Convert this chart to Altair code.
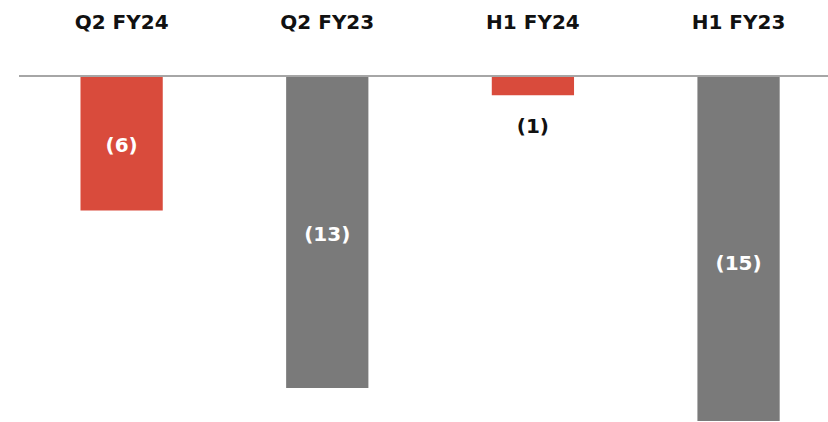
import altair as alt
import pandas as pd

categories = ["Q2 FY24", "Q2 FY23", "H1 FY24", "H1 FY23"]
values = [-5.6, -13.0, -0.8, -15.4]
labels = ["(6)", "(13)", "(1)", "(15)"]
bar_colors = ["#D94B3C", "#7A7A7A", "#D94B3C", "#7A7A7A"]

df = pd.DataFrame({"cat": categories, "value": values, "label": labels, "color": bar_colors})

FONT = "DejaVu Sans"

x = alt.X("cat:N", sort=categories, title=None,
          scale=alt.Scale(paddingInner=0.6, paddingOuter=0.267, align=0.56),
          axis=alt.Axis(orient="top", domain=False, ticks=False, labelAngle=0,
                        labelFont=FONT, labelFontWeight="bold", labelFontSize=20,
                        labelColor="#111111", labelPadding=44, grid=False))
yscale = alt.Scale(domain=[-14.375, 0], nice=False, zero=False)

base = alt.Chart(df)

bars = base.mark_bar(clip=True).encode(
    x=x,
    y=alt.Y("value:Q", scale=yscale, axis=None),
    y2=alt.datum(0),
    color=alt.Color("color:N", scale=None),
)

zero = alt.Chart(df).mark_rule(color="#A6A6A6", strokeWidth=1.5).encode(
    y=alt.datum(0)
)

inside = base.transform_filter("datum.value <= -2").transform_calculate(
    mid="datum.value / 2"
).mark_text(font=FONT, fontWeight="bold", fontSize=20, color="#FFFFFF",
            baseline="middle", dy=3).encode(
    x=alt.X("cat:N", sort=categories),
    y=alt.Y("mid:Q", scale=yscale),
    text="label:N",
)

outside = base.transform_filter("datum.value > -2").mark_text(
    font=FONT, fontWeight="bold", fontSize=20, color="#111111",
    baseline="middle", dy=32).encode(
    x=alt.X("cat:N", sort=categories),
    y=alt.Y("value:Q", scale=yscale),
    text="label:N",
)

chart = alt.layer(bars, zero, inside, outside).properties(
    width=809, height=345,
    autosize=alt.AutoSizeParams(type="none"),
    padding={"left": 19, "top": 76, "right": 0, "bottom": 1},
    background="#FFFFFF",
).configure_view(stroke=None)

chart.save("out.html", embed_options={"renderer": "svg", "actions": False})
